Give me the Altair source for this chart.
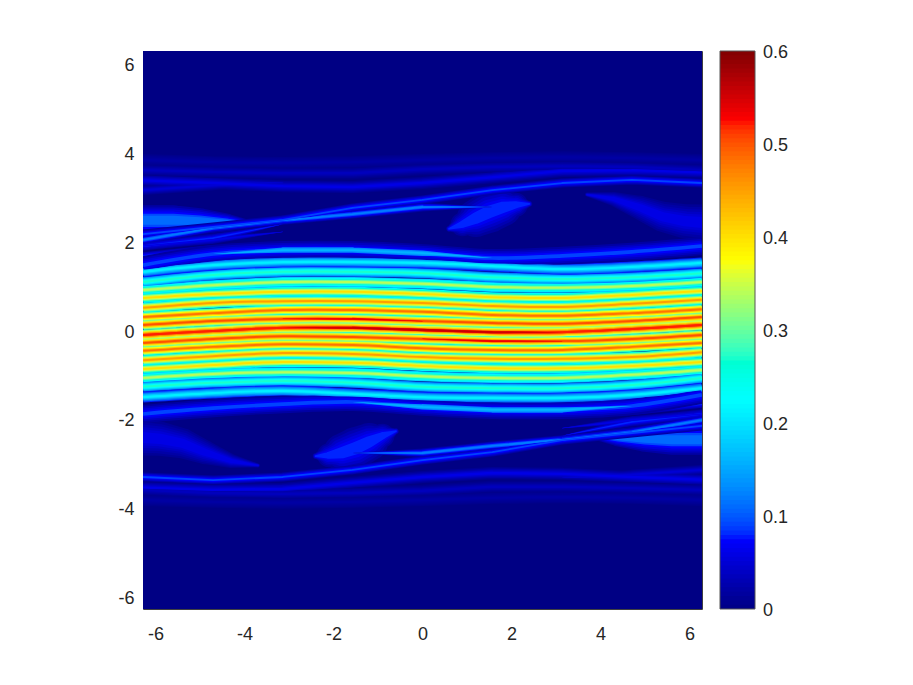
import altair as alt
import pandas as pd

PI2 = 6.2832
knot_x = [-6.28, -4.71, -3.14, -1.57, 0, 1.57, 3.14, 4.71, 6.28]
N = None

# ridge centre lines of the upper half, read at knot_x (the lower half is the point reflection)
ridge_y = [
    [-.11, -.02, .05, .05, 0, -.05, -.05, .02, .11],
    [.11, .20, .25, .25, .20, .16, .14, .20, .29],
    [.29, .38, .45, .45, .41, .34, .32, .38, .47],
    [.50, .61, .65, .65, .61, .54, .52, .59, .68],
    [.72, .81, .86, .86, .81, .74, .72, .79, .88],
    [.90, 1.01, 1.08, 1.08, 1.04, .97, .95, .99, 1.08],
    [1.08, 1.24, 1.31, 1.31, 1.28, 1.19, 1.15, 1.19, 1.28],
    [1.31, 1.46, 1.53, 1.53, 1.51, 1.44, 1.37, 1.42, 1.51],
    [1.46, 1.71, 1.80, 1.80, 1.73, 1.62, 1.67, 1.76, 1.89],
]
ridge_peak = [.52, .50, .48, .45, .40, .34, .27, .21, .09]
ridge_base = [.30, .28, .27, .25, .22, .18, .12, .08, .02]
ridge_width = [10, 10, 10, 10, 10, 10, 10, 11, 18]

# faint filaments outside the central band
faint_y = [
    [1.89, 2.07, 2.38, N, N, N, N, N, N],
    [1.64, 1.80, 1.95, N, N, N, N, N, N],
    [1.89, 2.03, 2.21, N, N, N, N, N, N],
    [2.03, 2.30, 2.47, 2.61, 2.77, 2.77, N, N, N],
    [2.16, 2.32, 2.48, 2.75, 2.93, 3.15, 3.31, 3.38, 3.31],
    [3.15, 3.26, 3.33, N, N, N, N, N, N],
    [3.37, 3.31, 3.24, 3.22, 3.31, 3.44, 3.58, 3.60, 3.55],
    [3.60, 3.56, 3.53, 3.53, 3.62, 3.67, 3.69, 3.67, 3.60],
    [3.83, 3.78, 3.76, 3.78, 3.83, 3.87, 3.89, 3.87, 3.83],
]
faint_peak = [.08, .10, .06, .12, .09, .05, .06, .035, .02]
faint_base = [.02, .03, .02, .02, .02, .01, .01, .005, .005]
faint_width = [9, 10, 8, 9, 9, 10, 12, 12, 12]

# hottest stretches of the central ridges, and the brighter left part of the outermost ridge
hot_y = [
    [N, N, N, .05, 0, -.05, -.05, N, N],
    [N, N, .25, .25, .20, N, N, N, N],
    [N, 1.71, 1.80, 1.80, 1.73, 1.62, N, N, N],
]
hot_peak = [.56, .54, .16]
hot_base = [.52, .50, .09]
hot_width = [4, 4, 9]

# soft blobs beside the filaments, each with its own centre line and widths
blob_x = [
    [-7, -6.28, -5.6, -5.0, -4.4, -3.8],
    [.6, .9, 1.2, 1.5, 1.8, 2.1, 2.4],
    [3.7, 4.3, 4.9, 5.4, 5.9, 6.3, 7],
]
blob_y = [
    [2.47, 2.47, 2.47, 2.45, 2.42, 2.38],
    [2.28, 2.38, 2.52, 2.66, 2.76, 2.82, 2.84],
    [3.05, 2.95, 2.75, 2.55, 2.45, 2.42, 2.40],
]
blob_w = [
    [30, 30, 30, 26, 18, 6],
    [6, 24, 38, 42, 38, 24, 6],
    [4, 14, 24, 30, 34, 36, 36],
]
blob_peak = [.11, .08, .06]
blob_level_width = [1, .86, .72, .58, .44, .3]
blob_level_mix = [.2, .36, .52, .68, .84, 1]

level_width = [1, .8, .6, .4, .2]
level_mix = [0, .25, .5, .75, 1]

# colour bar: 128 steps between 0 and 0.6
bar_steps = 128
bar_ticks = [0, .1, .2, .3, .4, .5, .6]
bar_labels = ["0", "0.1", "0.2", "0.3", "0.4", "0.5", "0.6"]

ridge_rows, trail_rows, hot_rows, blob_rows = [], [], [], []
series = 0
for w_frac, mix in zip(level_width, level_mix):
    for sign in (1, -1):
        for ys, p, b, w in zip(ridge_y, ridge_peak, ridge_base, ridge_width):
            series += 1
            for x, y in zip(knot_x, ys):
                ridge_rows.append(dict(s=series, x=sign * x, y=sign * y, v=b + (p - b) * mix, w=w * w_frac))


def add_trails(out, ys_all, peak_all, base_all, width_all, widths, mixes):
    global series
    for w_frac, mix in zip(widths, mixes):
        for sign in (1, -1):
            for ys, p, b, w in zip(ys_all, peak_all, base_all, width_all):
                series += 1
                for i, (x, y) in enumerate(zip(knot_x, ys)):
                    if y is None:
                        continue
                    is_end = (i > 0 and ys[i - 1] is None) or (i < 8 and ys[i + 1] is None)
                    out.append(dict(s=series, x=sign * x, y=sign * y, v=b + (p - b) * mix,
                                    w=0.1 if is_end else w * w_frac))


add_trails(trail_rows, faint_y, faint_peak, faint_base, faint_width, level_width, level_mix)
add_trails(hot_rows, hot_y, hot_peak, hot_base, hot_width, level_width[2:], level_mix[2:])

for w_frac, mix in zip(blob_level_width, blob_level_mix):
    for sign in (1, -1):
        for xs, ys, ws, p in zip(blob_x, blob_y, blob_w, blob_peak):
            series += 1
            for x, y, w in zip(xs, ys, ws):
                blob_rows.append(dict(s=series, x=sign * x, y=sign * y, v=p * mix, w=w * w_frac))

jet_domain = [0, .075, .225, .375, .525, .6]
jet_range = ["#000084", "#0000ff", "#00ffff", "#ffff00", "#ff0000", "#800000"]
jet = alt.Scale(domain=jet_domain, range=jet_range, clamp=True)
color = alt.Color("v:Q", scale=jet, legend=None)
xscale = alt.Scale(domain=[-PI2, PI2], nice=False, zero=False)
yscale = alt.Scale(domain=[-PI2, PI2], nice=False, zero=False)
axis_kw = dict(
    title=None, values=[-6, -4, -2, 0, 2, 4, 6], grid=False, tickSize=0, domain=False,
    labelFontSize=18, labelColor="#262626", labelFont="Liberation Sans", labelExpr="'' + datum.value",
)

bg = alt.Chart(pd.DataFrame({"x": [-PI2], "x2": [PI2], "y": [-PI2], "y2": [PI2], "v": [0.0]})).mark_rect().encode(
    x=alt.X("x:Q", scale=xscale, axis=alt.Axis(labelPadding=16, **axis_kw)),
    x2="x2:Q",
    y=alt.Y("y:Q", scale=yscale, axis=alt.Axis(labelPadding=9, labelOffset=2, **axis_kw)),
    y2="y2:Q",
    color=color,
)


def trail_layer(rows):
    return alt.Chart(pd.DataFrame(rows)).mark_trail(clip=True).encode(
        x=alt.X("x:Q", scale=xscale),
        y=alt.Y("y:Q", scale=yscale),
        detail="s:N",
        color=color,
        size=alt.Size("w:Q", scale=None),
    )


lines = alt.Chart(pd.DataFrame(ridge_rows)).mark_line(interpolate="cardinal", clip=True, strokeCap="butt").encode(
    x=alt.X("x:Q", scale=xscale),
    y=alt.Y("y:Q", scale=yscale),
    detail="s:N",
    color=color,
    strokeWidth=alt.StrokeWidth("w:Q", scale=None),
)


def bar_pos(v):
    return -PI2 + 2 * PI2 * v / 0.6


# each step reaches into the next one so that no seams show between them
bar_df = pd.DataFrame([
    dict(y=bar_pos(.6 * i / bar_steps), y2=bar_pos(.6 * min(i + 2, bar_steps) / bar_steps), v=.6 * (i + .5) / bar_steps)
    for i in range(bar_steps)
])
bar = alt.Chart(bar_df).mark_rect(clip=False).encode(
    x=alt.value(577), x2=alt.value(612),
    y=alt.Y("y:Q", scale=yscale), y2="y2:Q",
    color=color,
)
bar_frame = alt.Chart(pd.DataFrame({"y": [-PI2], "y2": [PI2]})).mark_rect(
    clip=False, fillOpacity=0, stroke="#555555", strokeWidth=1
).encode(x=alt.value(577), x2=alt.value(612), y=alt.Y("y:Q", scale=yscale), y2="y2:Q")
bar_text = alt.Chart(pd.DataFrame({
    "y": [bar_pos(v) for v in bar_ticks],
    "t": bar_labels,
})).mark_text(align="left", baseline="middle", fontSize=18, font="Liberation Sans", color="#262626", clip=False, dy=2).encode(
    x=alt.value(620),
    y=alt.Y("y:Q", scale=yscale),
    text="t:N",
)

chart = (bg + trail_layer(blob_rows) + trail_layer(trail_rows) + lines + trail_layer(hot_rows)
         + bar + bar_frame + bar_text).properties(
    width=559, height=558,
    autosize=alt.AutoSizeParams(type="none"),
    padding={"left": 135, "top": 43, "right": 150, "bottom": 60},
).configure_view(stroke="#404040", strokeWidth=1)

chart.save("out.html", embed_options={"renderer": "svg", "actions": False})
